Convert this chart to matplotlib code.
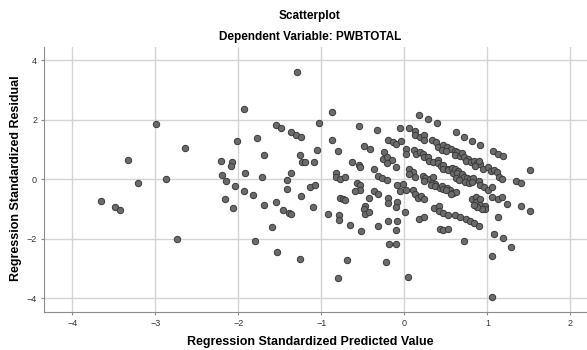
import matplotlib.pyplot as plt

plt.rcParams['font.family'] = ['Liberation Sans', 'DejaVu Sans']

# standardized predicted values / residuals
left_x = [-3.65, -3.49, -3.43, -3.33, -3.21, -2.99, -2.87, -2.74, -2.64, -2.21, -2.08, -2.09,
          -2.20, -2.15, -2.04, -2.16, -2.06, -2.01]
left_y = [-0.73, -0.94, -1.03, 0.66, -0.12, 1.86, 0.02, -1.99, 1.06, 0.63, 0.60, 0.46,
          0.15, -0.07, -0.22, -0.67, -0.95, 1.28]

mid_x = [-1.29, -1.93, -0.87, -1.54, -1.48, -1.37, -1.30, -1.25, -1.03, -1.77, -1.69, -1.26,
         -1.23, -1.20, -1.09, -1.05, -1.92, -1.71, -1.37, -1.41, -1.93, -1.82, -1.41, -1.25,
         -1.14, -1.08, -1.69, -1.55, -1.46, -1.39, -1.36, -1.10, -1.59, -1.80, -1.53, -1.26,
         -0.92, -0.79, -0.79, -0.65, -0.52, -0.69, -0.80, -0.87, -0.80, -0.55, -0.48, -0.41,
         -0.63, -0.55, -0.53, -0.37, -0.82, -0.82, -0.77, -0.71, -0.57, -0.53, -0.53, -0.60,
         -0.37, -0.32, -0.77, -0.74, -0.71, -0.43, -0.47, -0.49, -0.47, -0.43, -0.32]
mid_y = [3.62, 2.37, 2.26, 1.84, 1.74, 1.60, 1.50, 1.41, 1.88, 1.38, 0.81, 0.82,
         0.60, 0.60, 0.59, 1.00, 0.22, 0.08, 0.21, -0.02, -0.38, -0.53, -0.32, -0.56,
         -0.25, -0.18, -0.86, -0.76, -1.03, -1.13, -1.16, -0.92, -1.61, -2.07, -2.45, -2.69,
         -1.18, -1.20, -1.35, -1.55, -1.74, -2.71, -3.33, 1.34, 0.94, 1.81, 1.12, 1.02,
         0.57, 0.47, 0.41, 0.35, 0.22, 0.07, 0.00, 0.07, -0.12, -0.19, -0.35, -0.40,
         -0.40, -0.49, -0.62, -0.65, -0.71, -0.64, -0.88, -1.01, -1.16, -1.10, -1.56]

near0_x = [-0.33, -0.05, -0.20, -0.14, -0.10, -0.04, -0.24, -0.26, -0.21, -0.15, -0.21, -0.10,
           -0.32, -0.27, -0.21, -0.09, -0.02, -0.05, 0.02, -0.20, -0.20, -0.09, -0.10, 0.01,
           -0.20, -0.09, -0.10, -0.18, -0.10, -0.22, 0.05]
near0_y = [1.65, 1.72, 1.34, 1.27, 1.18, 1.29, 0.93, 0.68, 0.74, 0.65, 0.56, 0.42,
           0.10, 0.05, -0.02, -0.18, -0.15, -0.38, -0.35, -0.64, -0.81, -0.77, -0.93, -1.10,
           -1.40, -1.40, -1.70, -2.18, -2.16, -2.77, -3.28]

dense_x = [0.18, 0.29, 0.39, 0.06, 0.13, 0.13, 0.19, 0.24, 0.24,
           0.33, 0.38, 0.41, 0.46, 0.51, 0.56, 0.45, 0.50, 0.61, 0.63, 0.61, 0.67, 0.69, 0.72,
           0.77, 0.74, 0.80, 0.84, 0.88, 0.91, 0.85, 0.90, 0.95, 1.01, 1.04, 1.08, 1.12, 1.14, 1.18,
           0.62, 0.72, 0.82, 0.91, 1.07, 1.13, 1.19,
           0.02, 0.02, 0.12, 0.14, 0.19, 0.22, 0.24, 0.29, 0.30, 0.35, 0.40, 0.41, 0.44, 0.47,
           0.47, 0.52, 0.53, 0.57, 0.59, 0.61, 0.65, 0.64, 0.69, 0.72, 0.75, 0.79, 0.83, 0.62,
           0.66, 0.73, 0.78, 0.82, 0.90, 0.91, 0.96, 1.01, 1.06,
           0.06, 0.11, 0.06,
           0.13, 0.22, 0.25, 0.24, 0.31, 0.35, 0.33, 0.37, 0.32, 0.37, 0.43, 0.45, 0.47, 0.51,
           0.55, 0.58, 0.62, 0.56, 0.50,
           0.11, 0.13, 0.16, 0.20, 0.24,
           0.81, 0.86, 0.86, 0.91, 0.91, 0.97, 0.97, 0.94, 0.88, 0.84,
           1.06, 1.13, 1.18, 1.24, 1.41, 1.51, 1.35, 1.41, 1.51,
           0.36, 0.42, 0.42, 0.47, 0.53, 0.61, 0.67, 0.74, 0.79, 0.84, 0.90,
           0.18, 0.24, 0.43, 0.47, 0.53, 0.72,
           1.13, 1.08, 1.19, 1.29, 1.06, 1.06]
dense_y = [2.18, 2.03, 1.90, 1.73, 1.63, 1.48, 1.43, 1.48, 1.33,
           1.34, 1.26, 1.10, 1.14, 1.08, 1.02, 0.99, 0.97, 0.97, 0.92, 0.83, 0.80, 0.87, 0.75,
           0.68, 0.61, 0.57, 0.63, 0.55, 0.52, 0.45, 0.62, 0.34, 0.40, 0.27, 0.33, 0.24, 0.08, 0.02,
           1.58, 1.42, 1.28, 1.16, 0.94, 0.86, 0.77,
           1.03, 0.86, 0.99, 0.86, 0.93, 0.84, 0.76, 0.75, 0.63, 0.58, 0.64, 0.54, 0.45, 0.48,
           0.35, 0.36, 0.30, 0.37, 0.23, 0.35, 0.27, 0.20, 0.17, 0.08, 0.03, 0.00, 0.05, 0.03,
           -0.02, -0.08, -0.13, -0.10, -0.05, -0.19, -0.26, -0.35, -0.27,
           0.35, 0.26, 0.19,
           0.09, 0.12, 0.06, -0.05, 0.02, 0.08, -0.11, -0.14, -0.18, -0.21, -0.30, -0.23, -0.34, -0.29,
           -0.37, -0.47, -0.41, -0.50, -0.37,
           -0.36, -0.48, -0.61, -0.56, -0.66,
           -0.67, -0.59, -0.76, -0.67, -0.85, -0.89, -0.98, -0.98, -0.92, -0.86,
           -0.58, -0.66, -0.58, -0.83, -0.90, -1.05, -0.06, -0.13, 0.32,
           -0.97, -0.91, -1.07, -1.14, -1.20, -1.20, -1.26, -1.34, -1.40, -1.47, -1.56,
           -1.33, -1.26, -1.66, -1.71, -1.66, -2.08,
           -1.28, -1.83, -1.98, -2.27, -2.56, -3.94]

pred = left_x + mid_x + near0_x + dense_x
resid = left_y + mid_y + near0_y + dense_y

fig = plt.figure(figsize=(5.87, 3.5), dpi=100)
ax = fig.add_axes([0.075, 0.1094, 0.925, 0.7554])

ax.scatter(pred, resid, s=21, facecolor='#6b6b6b', edgecolor='#3a3a3a', linewidth=0.7, zorder=3)

ax.set_xlim(-4.34, 2.2)
ax.set_ylim(-4.45, 4.44)
ax.set_xticks([-4, -3, -2, -1, 0, 1, 2])
ax.set_yticks([-4, -2, 0, 2, 4])
ax.grid(True, color='#d4d4d4', linewidth=1)
ax.set_axisbelow(True)
for side in ['top', 'right']:
    ax.spines[side].set_visible(False)
for side in ['left', 'bottom']:
    ax.spines[side].set_color('#8c8c8c')
ax.tick_params(labelsize=6.5, colors='#8c8c8c', labelcolor='#333333', length=2, pad=3)

fig.text(0.528, 0.022, 'Regression Standardized Predicted Value', ha='center', va='center',
         fontsize=9, fontweight='bold')
fig.text(0.028, 0.49, 'Regression Standardized Residual', ha='center', va='center',
         rotation=90, fontsize=9, fontweight='bold')

fig.text(0.528, 0.955, 'Scatterplot', ha='center', va='center', fontsize=8.5, fontweight='bold')
fig.text(0.528, 0.893, 'Dependent Variable: PWBTOTAL', ha='center', va='center', fontsize=8.5, fontweight='bold')

fig.savefig('out.png', dpi=100)
